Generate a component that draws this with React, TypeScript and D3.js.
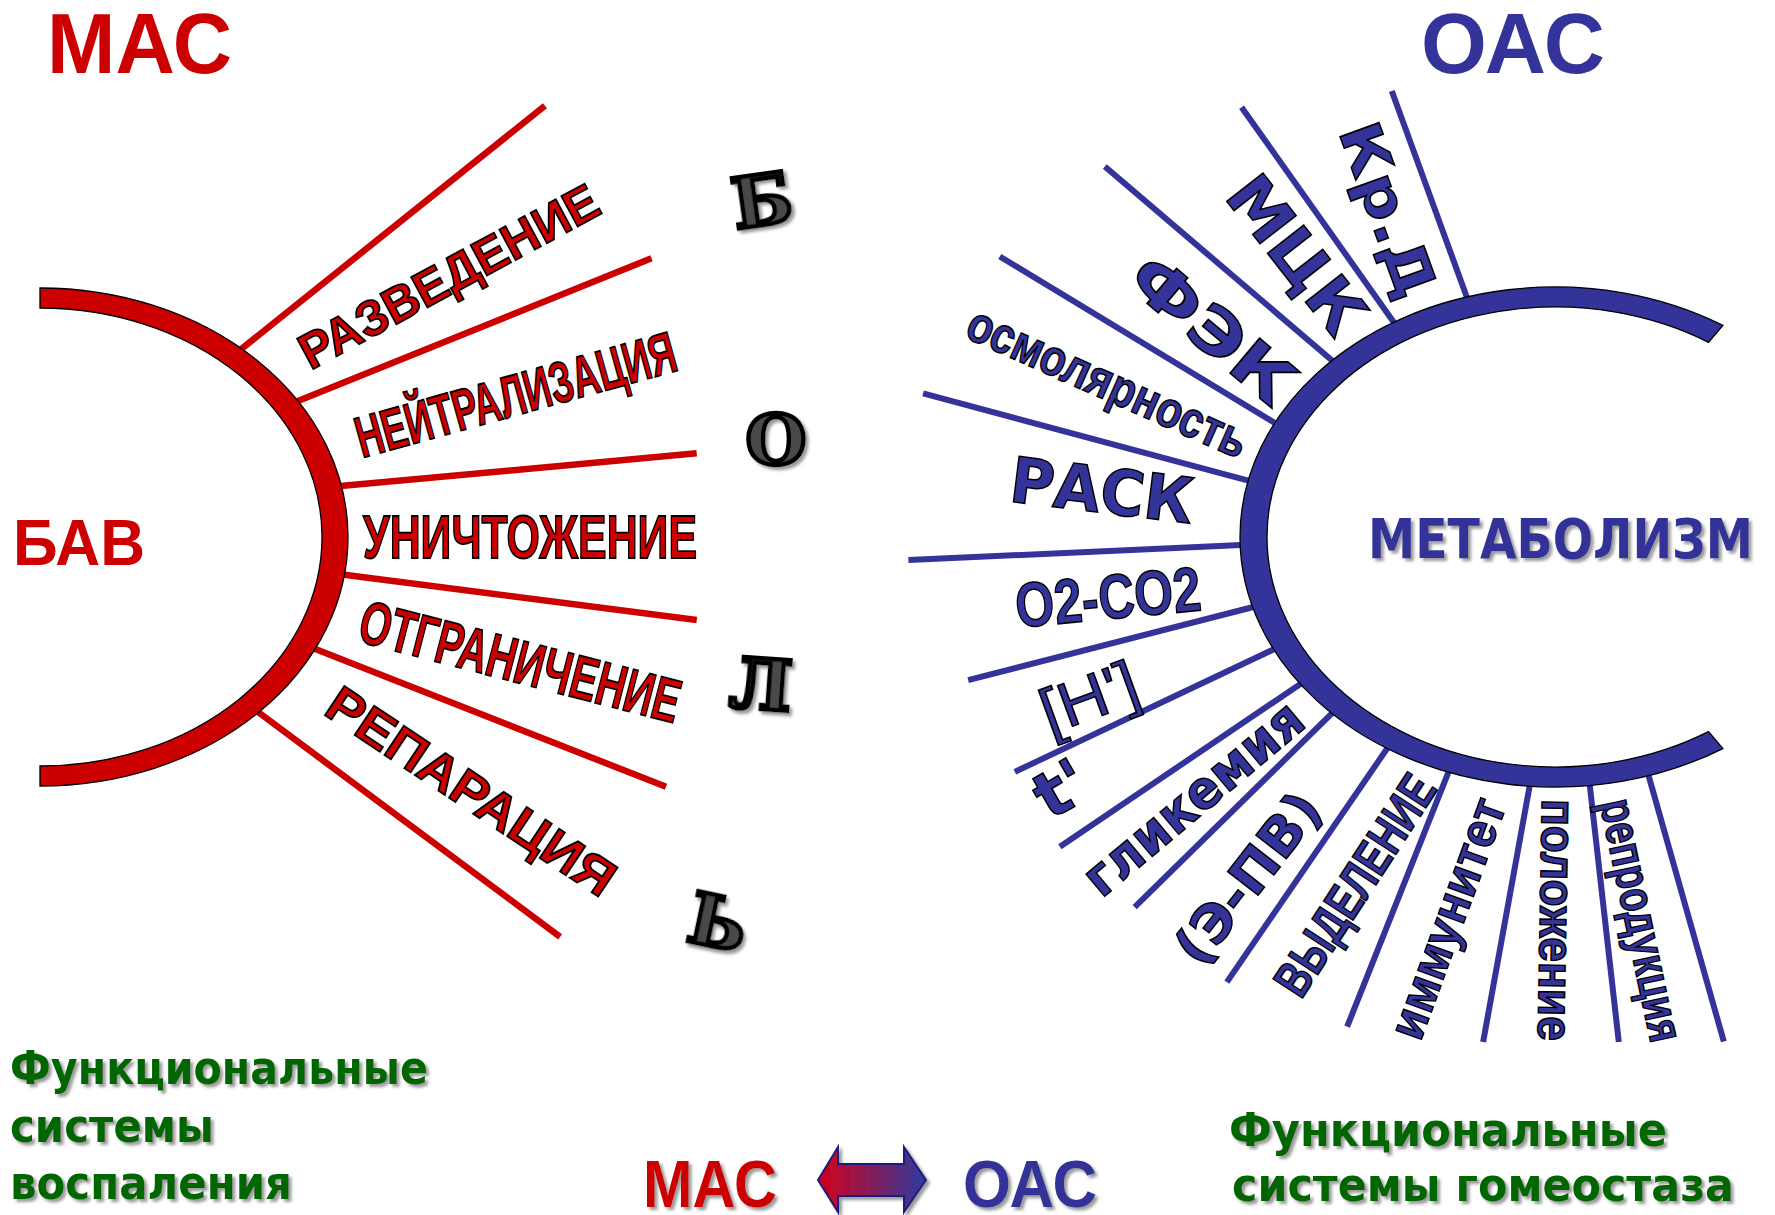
import React from "react";
import * as d3 from "d3";

const W = 1775;
const H = 1215;

const RED = "#CC0000";
const BLUE = "#333399";
const GREEN = "#006600";
const SANS = "'Liberation Sans', Arial, sans-serif";
const VERD = "'DejaVu Sans', Verdana, sans-serif";
const SERIF = "'DejaVu Serif', serif";

// ---- data ----
const leftLabels = ["РАЗВЕДЕНИЕ", "НЕЙТРАЛИЗАЦИЯ", "УНИЧТОЖЕНИЕ", "ОТГРАНИЧЕНИЕ", "РЕПАРАЦИЯ"];
const rightLabels = ["Кр.Д", "МЦК", "ФЭК", "осмолярность", "РАСК", "O2-CO2", "[H']", "t'", "гликемия", "(Э-ПВ)", "ВЫДЕЛЕНИЕ", "иммунитет", "положение", "репродукция"];
const painLetters = ["Б", "О", "Л", "Ь"];
const leftTitle = "МАС";
const rightTitle = "ОАС";
const leftCore = "БАВ";
const rightCore = "МЕТАБОЛИЗМ";
const leftCaption = ["Функциональные", "системы", "воспаления"];
const rightCaption = ["Функциональные", "системы гомеостаза"];

// spoke geometry: anchor = parametric angle on arc, end = polar angle/radius from arc centre
const leftSpokeAnchor = [-49.2, -33.3, -12, 8.7, 26.7, 44.8];
const leftSpokeEndAngle = [-40.5, -24.5, -7.26, 7.2, 21.75, 37.55];
const leftSpokeEndRadius = [664, 672, 662, 662, 674, 656];

const rightSpokeAnchor = [253.7, 239.1, 224.8, 206.7, 192.8, 178.2, 163.8, 153.5, 144.2, 135.4, 122.4, 109.9, 94.5, 83.6, 72.5];
const rightSpokeEndAngle = [249.9, 233.9, 219.45, 206.8, 192.8, 177.96, 166.3, 156.5, 147.97, 138.64, 126.4, 113.0, 98.1, 82.8, 71.5];
const rightSpokeEndRadius = [475, 532, 583, 622, 648, 647, 604, 589, 584, 560, 553, 532, 510, 509, 532];

// label placement [x, y, rotation, fontSize, textLength]
const leftLabelPlace = [
  [457, 291.5, -28.3, 50, 333],
  [521, 414, -15.5, 58, 330],
  [530, 558, 0, 62, 334],
  [515, 682, 14.5, 61, 329],
  [461.5, 806, 33.6, 51, 335],
];
const rightLabelPlace = [
  [1388, 210, 70, 57, 182],
  [1296, 255, 52, 63, 182],
  [1212, 330, 40, 63, 195],
  [1108, 382, 24, 51, 302],
  [1102, 491, 7, 63, 184],
  [1108, 597, -5.5, 63, 186],
  [1089, 697, -20, 63, 100],
  [1061, 789, -30, 64, 52],
  [1193, 798, -40, 53, 270],
  [1248, 878, -52, 53, 202],
  [1355, 885, -57, 51, 252],
  [1447, 918, -70, 51, 252],
  [1557, 920, 91, 49, 242],
  [1642, 920, 78, 49, 247],
];
const rightLabelFont = [VERD, VERD, VERD, SANS, VERD, SANS, SANS, VERD, VERD, VERD, SANS, SANS, SANS, SANS];
const rightLabelWeight = ["bold", "bold", "bold", "bold", "bold", "bold", "normal", "bold", "bold", "bold", "bold", "bold", "bold", "bold"];
const painPlace = [
  [762, 200, -8],
  [776, 439, 0],
  [761, 684, 4],
  [718, 922, 12],
];

// arrow outline (units relative to arrow box)
const arrowShape: [number, number][] = [
  [0, 33], [20, 0], [20, 17], [86, 17], [86, 0], [108, 33], [86, 65], [86, 49], [20, 49], [20, 65],
];

const LE = { cx: 40, cy: 537, rxo: 308, ryo: 249, rxi: 282, ryi: 229 };
const RE = { cx: 1555, cy: 537, rxo: 315, ryo: 250, rxi: 288, ryi: 230, end: 57.8 };

const rad = (d: number) => (d * Math.PI) / 180;

function spokeLines(E: any, anchors: number[], angs: number[], rads: number[]) {
  return anchors.map((t, i) => {
    const tr = rad(t);
    const s: [number, number] = [E.cx + (E.rxo - 12) * Math.cos(tr), E.cy + (E.ryo - 9) * Math.sin(tr)];
    const a = rad(angs[i]);
    const e: [number, number] = [E.cx + rads[i] * Math.cos(a), E.cy + rads[i] * Math.sin(a)];
    return [s, e] as [number, number][];
  });
}

export default function App() {
  const line = d3.line();
  const lSp = spokeLines(LE, leftSpokeAnchor, leftSpokeEndAngle, leftSpokeEndRadius);
  const rSp = spokeLines(RE, rightSpokeAnchor, rightSpokeEndAngle, rightSpokeEndRadius);

  const leftArc = `M${LE.cx},${LE.cy - LE.ryo} A${LE.rxo},${LE.ryo} 0 0 1 ${LE.cx},${LE.cy + LE.ryo} L${LE.cx},${LE.cy + LE.ryi} A${LE.rxi},${LE.ryi} 0 0 0 ${LE.cx},${LE.cy - LE.ryi} Z`;
  const te = rad(RE.end);
  const oT = [RE.cx + RE.rxo * Math.cos(te), RE.cy - RE.ryo * Math.sin(te)];
  const oB = [RE.cx + RE.rxo * Math.cos(te), RE.cy + RE.ryo * Math.sin(te)];
  const iT = [RE.cx + RE.rxi * Math.cos(te), RE.cy - RE.ryi * Math.sin(te)];
  const iB = [RE.cx + RE.rxi * Math.cos(te), RE.cy + RE.ryi * Math.sin(te)];
  const rightArc = `M${oT[0]},${oT[1]} A${RE.rxo},${RE.ryo} 0 1 0 ${oB[0]},${oB[1]} L${iB[0]},${iB[1]} A${RE.rxi},${RE.ryi} 0 1 1 ${iT[0]},${iT[1]} Z`;

  const ax = d3.scaleLinear().domain([0, 108]).range([818, 926]);
  const ay = d3.scaleLinear().domain([0, 65]).range([1147, 1212]);
  const arrowPath = d3.line().curve(d3.curveLinearClosed)(arrowShape.map(([x, y]) => [ax(x), ay(y)]) as [number, number][]);

  return (
    <svg width={W} height={H} style={{ position: "absolute", left: 0, top: 0, background: "#fff" }}>
      <defs>
        <filter id="sh" x="-10%" y="-10%" width="130%" height="140%">
          <feDropShadow dx="3" dy="3" stdDeviation="1.6" floodColor="#8a8a8a" floodOpacity="0.85" />
        </filter>
        <linearGradient id="ag" x1="0" x2="1" y1="0" y2="0">
          <stop offset="0" stopColor="#d4001a" />
          <stop offset="1" stopColor="#2e3a9e" />
        </linearGradient>
      </defs>

      {/* titles */}
      <text x={47} y={73} fontFamily={SANS} fontWeight="bold" fontSize={86} fill={RED} textLength={185} lengthAdjust="spacingAndGlyphs">{leftTitle}</text>
      <text x={1421} y={73} fontFamily={SANS} fontWeight="bold" fontSize={86} fill={BLUE} textLength={184} lengthAdjust="spacingAndGlyphs">{rightTitle}</text>

      {/* spokes */}
      {lSp.map((p, i) => (
        <path key={"ls" + i} d={line(p) as string} stroke={RED} strokeWidth={6.5} fill="none" />
      ))}
      {rSp.map((p, i) => (
        <path key={"rs" + i} d={line(p) as string} stroke={BLUE} strokeWidth={6} fill="none" />
      ))}

      {/* arcs */}
      <path d={leftArc} fill={RED} stroke="#000" strokeWidth={1.3} />
      <path d={rightArc} fill={BLUE} stroke="#000" strokeWidth={1.3} />

      {/* cores */}
      <text x={13} y={565} fontFamily={SANS} fontWeight="bold" fontSize={65} fill={RED} textLength={132} lengthAdjust="spacingAndGlyphs">{leftCore}</text>
      <text x={1368} y={558} fontFamily={VERD} fontWeight="bold" fontSize={55} fill={BLUE} textLength={385} lengthAdjust="spacingAndGlyphs" filter="url(#sh)">{rightCore}</text>

      {/* left labels */}
      {leftLabels.map((t, i) => {
        const [x, y, r, fs, len] = leftLabelPlace[i];
        return (
          <text key={"ll" + i} transform={`translate(${x},${y}) rotate(${r})`} textAnchor="middle" fontFamily={SANS} fontWeight="bold" fontSize={fs} fill={RED} stroke="#000" strokeWidth={1.8} textLength={len} lengthAdjust="spacingAndGlyphs">{t}</text>
        );
      })}

      {/* right labels */}
      {rightLabels.map((t, i) => {
        const [x, y, r, fs, len] = rightLabelPlace[i];
        return (
          <text key={"rl" + i} transform={`translate(${x},${y}) rotate(${r})`} textAnchor="middle" dominantBaseline="central" fontFamily={rightLabelFont[i]} fontWeight={rightLabelWeight[i]} fontSize={fs} fill={BLUE} stroke="#000" strokeWidth={1.5} textLength={len} lengthAdjust="spacingAndGlyphs">{t}</text>
        );
      })}

      {/* БОЛЬ */}
      {painLetters.map((t, i) => {
        const [x, y, r] = painPlace[i];
        return (
          <text key={"p" + i} transform={`translate(${x},${y}) rotate(${r})`} textAnchor="middle" dominantBaseline="central" fontFamily={SERIF} fontWeight="bold" fontSize={70} fill="#4a4a4a" stroke="#000" strokeWidth={4.5} filter="url(#sh)">{t}</text>
        );
      })}

      {/* captions */}
      {leftCaption.map((t, i) => (
        <text key={"lc" + i} x={10} y={[1084, 1142, 1199][i]} fontFamily={VERD} fontWeight="bold" fontSize={46} fill={GREEN} textLength={[418, 204, 282][i]} lengthAdjust="spacingAndGlyphs" filter="url(#sh)">{t}</text>
      ))}
      {rightCaption.map((t, i) => (
        <text key={"rc" + i} x={[1229, 1232][i]} y={[1146, 1201][i]} fontFamily={VERD} fontWeight="bold" fontSize={47} fill={GREEN} textLength={[438, 502][i]} lengthAdjust="spacingAndGlyphs" filter="url(#sh)">{t}</text>
      ))}

      {/* bottom МАС ⇔ ОАС */}
      <text x={643} y={1207} fontFamily={SANS} fontWeight="bold" fontSize={66} fill={RED} textLength={134} lengthAdjust="spacingAndGlyphs" filter="url(#sh)">{leftTitle}</text>
      <path d={arrowPath as string} fill="url(#ag)" stroke="#1a1a80" strokeWidth={2} filter="url(#sh)" />
      <text x={963} y={1207} fontFamily={SANS} fontWeight="bold" fontSize={66} fill={BLUE} textLength={134} lengthAdjust="spacingAndGlyphs" filter="url(#sh)">{rightTitle}</text>
    </svg>
  );
}
